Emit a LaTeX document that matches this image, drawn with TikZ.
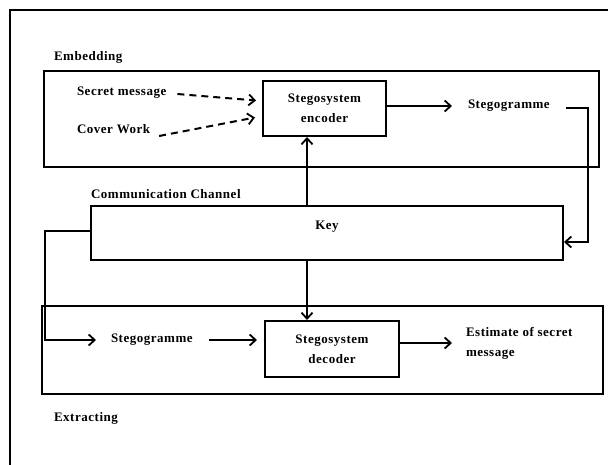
\documentclass[tikz,border=0pt]{standalone}
\usepackage{fontspec}
\setmainfont{Liberation Serif}[LetterSpace=4]
\usetikzlibrary{arrows.meta}

\tikzset{
  block/.style={draw, align=center, inner sep=0pt},
  lbl/.style={anchor=west, inner sep=0pt, align=left}
}

\begin{document}
\begin{tikzpicture}[x=1pt, y=-1pt, font=\fontsize{13}{20}\selectfont\bfseries,
        line width=2pt, line join=miter,
        >={Straight Barb[length=6pt,width=11pt,line width=1.8pt]}]
        \useasboundingbox (0,0) rectangle (608,465);
        
        % frame and the two parts
        \draw (10,465)--(10,10)--(608,10);
        \draw (44,71) rectangle (599,167);
        \draw (42,306) rectangle (603,394);
        
        \node[lbl] (embed) at (53,57) {Embedding};
        \node[lbl] (secret) at (76,93) {Secret message};
        \node[lbl] (cover) at (76,129) {Cover Work};
        \node[block, minimum width=123pt, minimum height=55pt] (encoder) 
        at (324.5,108.5) {Stegosystem\\encoder};
        \node[lbl] (stegoA) at (467,106) {Stegogramme};
        \coordinate (turn) at (588,108);
        
        \node[lbl] (channel) at (90,194) {Communication Channel};
        \node[block, minimum width=472pt, minimum height=54pt, 
        label={[yshift=6pt]center:Key}] (key) at (327,233) {};
        
        \node[lbl] (stegoB) at (110,340) {Stegogramme};
        \node[block, minimum width=134pt, minimum height=56pt] (decoder) 
        at (332,349) {Stegosystem\\decoder};
        \node[lbl] (estimate) at (465,343) {Estimate of secret\\message};
        \node[lbl] (extract) at (53,418) {Extracting};
        
        % embedding
        \draw[->, dashed, dash pattern=on 7pt off 5pt] ([xshift=10pt,yshift=-1pt]secret.east) 
        -- ([xshift=-6pt,yshift=8pt]encoder.west);
        \draw[->, dashed, dash pattern=on 7pt off 5pt] ([xshift=8pt,yshift=-7pt]cover.east) 
        -- ([xshift=-7pt,yshift=-9pt]encoder.west);
        \draw[->] (encoder.east|-stegoA) -- ([xshift=-15pt]stegoA.west);
        \draw[->] ([xshift=15pt]stegoA.east|-turn) -- (turn) |- ([yshift=-9pt]key.east);
        
        % key
        \draw[->] ([xshift=-20pt]key.north) -- ([xshift=-20pt]key.north|-encoder.south);
        \draw[->] ([xshift=-20pt]key.south) -- ([xshift=-20pt]key.south|-decoder.north);
        
        % extracting
        \draw[->] ([yshift=2pt]key.west) -- ++(-45,0) |- ([xshift=-14pt]stegoB.west);
        \draw[->] ([xshift=15pt]stegoB.east) -- ([xshift=-7pt]stegoB.east-|decoder.west);
        \draw[->] (decoder.east|-estimate) -- ([xshift=-13pt]estimate.west);
    \end{tikzpicture}
\end{document}
